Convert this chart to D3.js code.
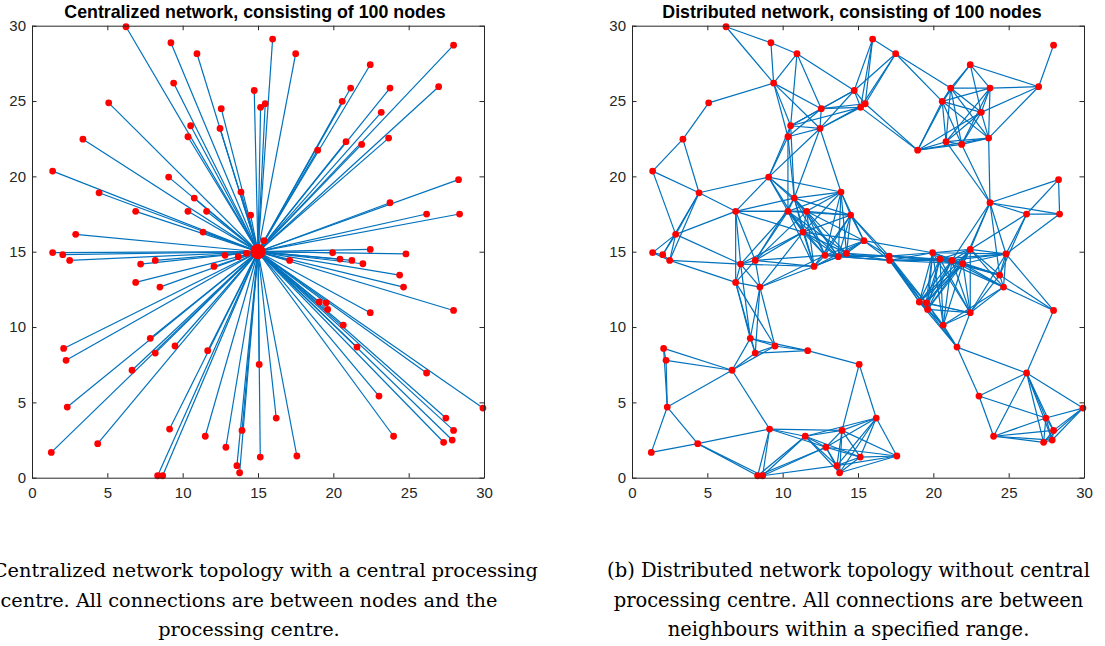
<!DOCTYPE html>
<html><head><meta charset="utf-8">
<script src="https://cdn.jsdelivr.net/npm/d3@7"></script>
<style>body{margin:0;background:#fff} svg{display:block}</style>
</head><body>
<svg id="chart" width="1105" height="646"></svg>
<script>
// ---- data ----
// node positions (shared by both panels; the last node is only shown in the distributed panel)
const nodeX = [6.24, 9.22, 10.95, 9.40, 14.75, 15.17, 15.48, 5.09, 12.56, 10.53, 12.48, 10.35, 3.38, 1.37, 9.07, 13.87, 4.45, 10.77, 6.88, 10.35, 11.59, 14.51, 11.35, 2.90, 1.37, 2.04,
  15.97, 17.50, 27.98, 22.45, 21.15, 23.76, 26.99, 20.59, 23.18, 23.67, 20.84, 21.88, 18.96, 28.31, 23.76, 26.19, 28.38, 15.39, 22.45, 19.95, 24.82, 17.10, 20.44, 21.23, 21.96, 24.40, 24.66, 27.98, 19.07, 19.53, 19.62, 22.45, 20.66, 21.57, 15.08, 26.19, 29.93, 23.03, 16.21, 27.47, 27.98, 24.00, 27.89, 27.32, 15.15, 17.58,
  2.50, 7.21, 8.18, 12.81, 13.69, 14.24, 12.08, 6.88, 8.49, 7.85, 2.10, 2.26, 8.18, 9.49, 11.66, 6.64, 2.34, 1.28, 4.36, 9.13, 11.50, 12.87, 13.94, 13.60, 13.78, 8.34, 8.67, 17.07];
const nodeY = [29.93, 28.87, 28.14, 26.19, 25.70, 24.58, 24.82, 24.88, 24.49, 23.36, 23.18, 22.63, 22.47, 20.35, 19.95, 18.96, 18.91, 18.56, 17.68, 17.68, 17.68, 17.43, 16.30, 16.15, 14.94, 14.80,
  29.11, 28.14, 28.71, 27.41, 25.86, 25.86, 25.95, 24.98, 24.25, 22.54, 22.30, 22.12, 21.74, 19.78, 18.25, 17.50, 17.50, 15.73, 15.15, 14.93, 14.85, 14.42, 14.51, 14.42, 14.20, 13.45, 12.65, 11.10, 11.66, 11.61, 11.17, 10.95, 10.13, 8.67, 7.52, 6.95, 4.62, 5.42, 3.96, 3.96, 3.14, 2.75, 2.50, 2.35, 1.37, 1.44,
  14.42, 14.18, 14.42, 14.76, 14.67, 14.89, 14.02, 12.96, 12.65, 9.25, 8.58, 7.79, 8.27, 8.74, 8.43, 7.13, 4.69, 1.68, 2.26, 3.23, 2.75, 2.02, 3.14, 0.80, 0.33, 0.13, 0.13, 14.71];
const centralNodeCount = 99;
const centreX = 15, centreY = 15;
const commRange = 5;
const tickValues = [0, 5, 10, 15, 20, 25, 30];
const titles = ["Centralized network, consisting of 100 nodes", "Distributed network, consisting of 100 nodes"];
const captionA = ["(a) Centralized network topology with a central processing", "centre. All connections are between nodes and the", "processing centre."];
const captionB = ["(b) Distributed network topology without central", "processing centre. All connections are between", "neighbours within a specified range."];

// ---- drawing ----
const svg = d3.select("#chart");
const allNodes = nodeX.map((x, i) => ({x: x, y: nodeY[i]}));
const blue = "#0072BD", axisCol = "#262626";
const plotTop = 25.7, plotBottom = 477.7;

function panel(x0, title, titleCx, mode) {
  const nodes = mode === "central" ? allNodes.slice(0, centralNodeCount) : allNodes;
  const x = d3.scaleLinear().domain([0, 30]).range([x0, x0 + 452]);
  const y = d3.scaleLinear().domain([0, 30]).range([plotBottom, plotTop]);
  const g = svg.append("g");
  const lines = g.append("g").attr("stroke", blue).attr("stroke-width", 1.2).attr("fill", "none");
  if (mode === "central") {
    lines.selectAll("line").data(nodes).join("line")
      .attr("x1", d => x(d.x)).attr("y1", d => y(d.y))
      .attr("x2", x(centreX)).attr("y2", y(centreY));
  } else {
    const links = [];
    for (let i = 0; i < nodes.length; i++)
      for (let j = i + 1; j < nodes.length; j++)
        if (Math.hypot(nodes[i].x - nodes[j].x, nodes[i].y - nodes[j].y) <= commRange) links.push([nodes[i], nodes[j]]);
    lines.selectAll("line").data(links).join("line")
      .attr("x1", d => x(d[0].x)).attr("y1", d => y(d[0].y))
      .attr("x2", d => x(d[1].x)).attr("y2", d => y(d[1].y));
  }
  g.append("g").selectAll("circle").data(nodes).join("circle")
    .attr("cx", d => x(d.x)).attr("cy", d => y(d.y)).attr("r", 3.4).attr("fill", "#FF0000");
  if (mode === "central") {
    g.append("circle").attr("cx", x(centreX)).attr("cy", y(centreY)).attr("r", 7.6).attr("fill", "#FF0000");
  }
  const style = sel => {
    sel.selectAll("path, line").attr("stroke", axisCol).attr("stroke-width", 1);
    sel.selectAll("text").attr("fill", axisCol).attr("font-family", "Liberation Sans, Arial, sans-serif").attr("font-size", 15);
  };
  g.append("g").attr("transform", `translate(0,${plotBottom})`)
    .call(d3.axisBottom(x).tickValues(tickValues).tickFormat(d3.format("d")).tickSizeInner(-4.5).tickSizeOuter(0).tickPadding(10)).call(style);
  g.append("g").attr("transform", `translate(0,${plotTop})`)
    .call(d3.axisTop(x).tickValues(tickValues).tickFormat("").tickSizeInner(-4.5).tickSizeOuter(0)).call(style);
  g.append("g").attr("transform", `translate(${x0},0)`)
    .call(d3.axisLeft(y).tickValues(tickValues).tickFormat(d3.format("d")).tickSizeInner(-4.5).tickSizeOuter(0).tickPadding(6)).call(style);
  g.append("g").attr("transform", `translate(${x0 + 452},0)`)
    .call(d3.axisRight(y).tickValues(tickValues).tickFormat("").tickSizeInner(-4.5).tickSizeOuter(0)).call(style);
  g.append("text").attr("x", titleCx).attr("y", 18).attr("text-anchor", "middle")
    .attr("font-family", "Liberation Sans, Arial, sans-serif").attr("font-weight", "bold").attr("font-size", 17.8)
    .attr("fill", "#000").text(title);
}

panel(32, titles[0], 255, "central");
panel(632, titles[1], 852, "distributed");

// captions, fitted in width
function caption(lines, cx, targetWidth) {
  const t = svg.append("text").attr("font-family", "DejaVu Serif, serif").attr("font-size", 20).text(lines[0]);
  const w = t.node().getComputedTextLength();
  t.remove();
  const fs = 20 * targetWidth / w;
  svg.append("g").selectAll("text").data(lines).join("text")
    .attr("x", cx).attr("y", (d, i) => 577 + i * 29.5)
    .attr("text-anchor", "middle").attr("font-family", "DejaVu Serif, serif").attr("font-size", fs)
    .attr("fill", "#000").text(d => d);
}
caption(captionA, 249, 578);
caption(captionB, 848.5, 483);
</script>
</body></html>
